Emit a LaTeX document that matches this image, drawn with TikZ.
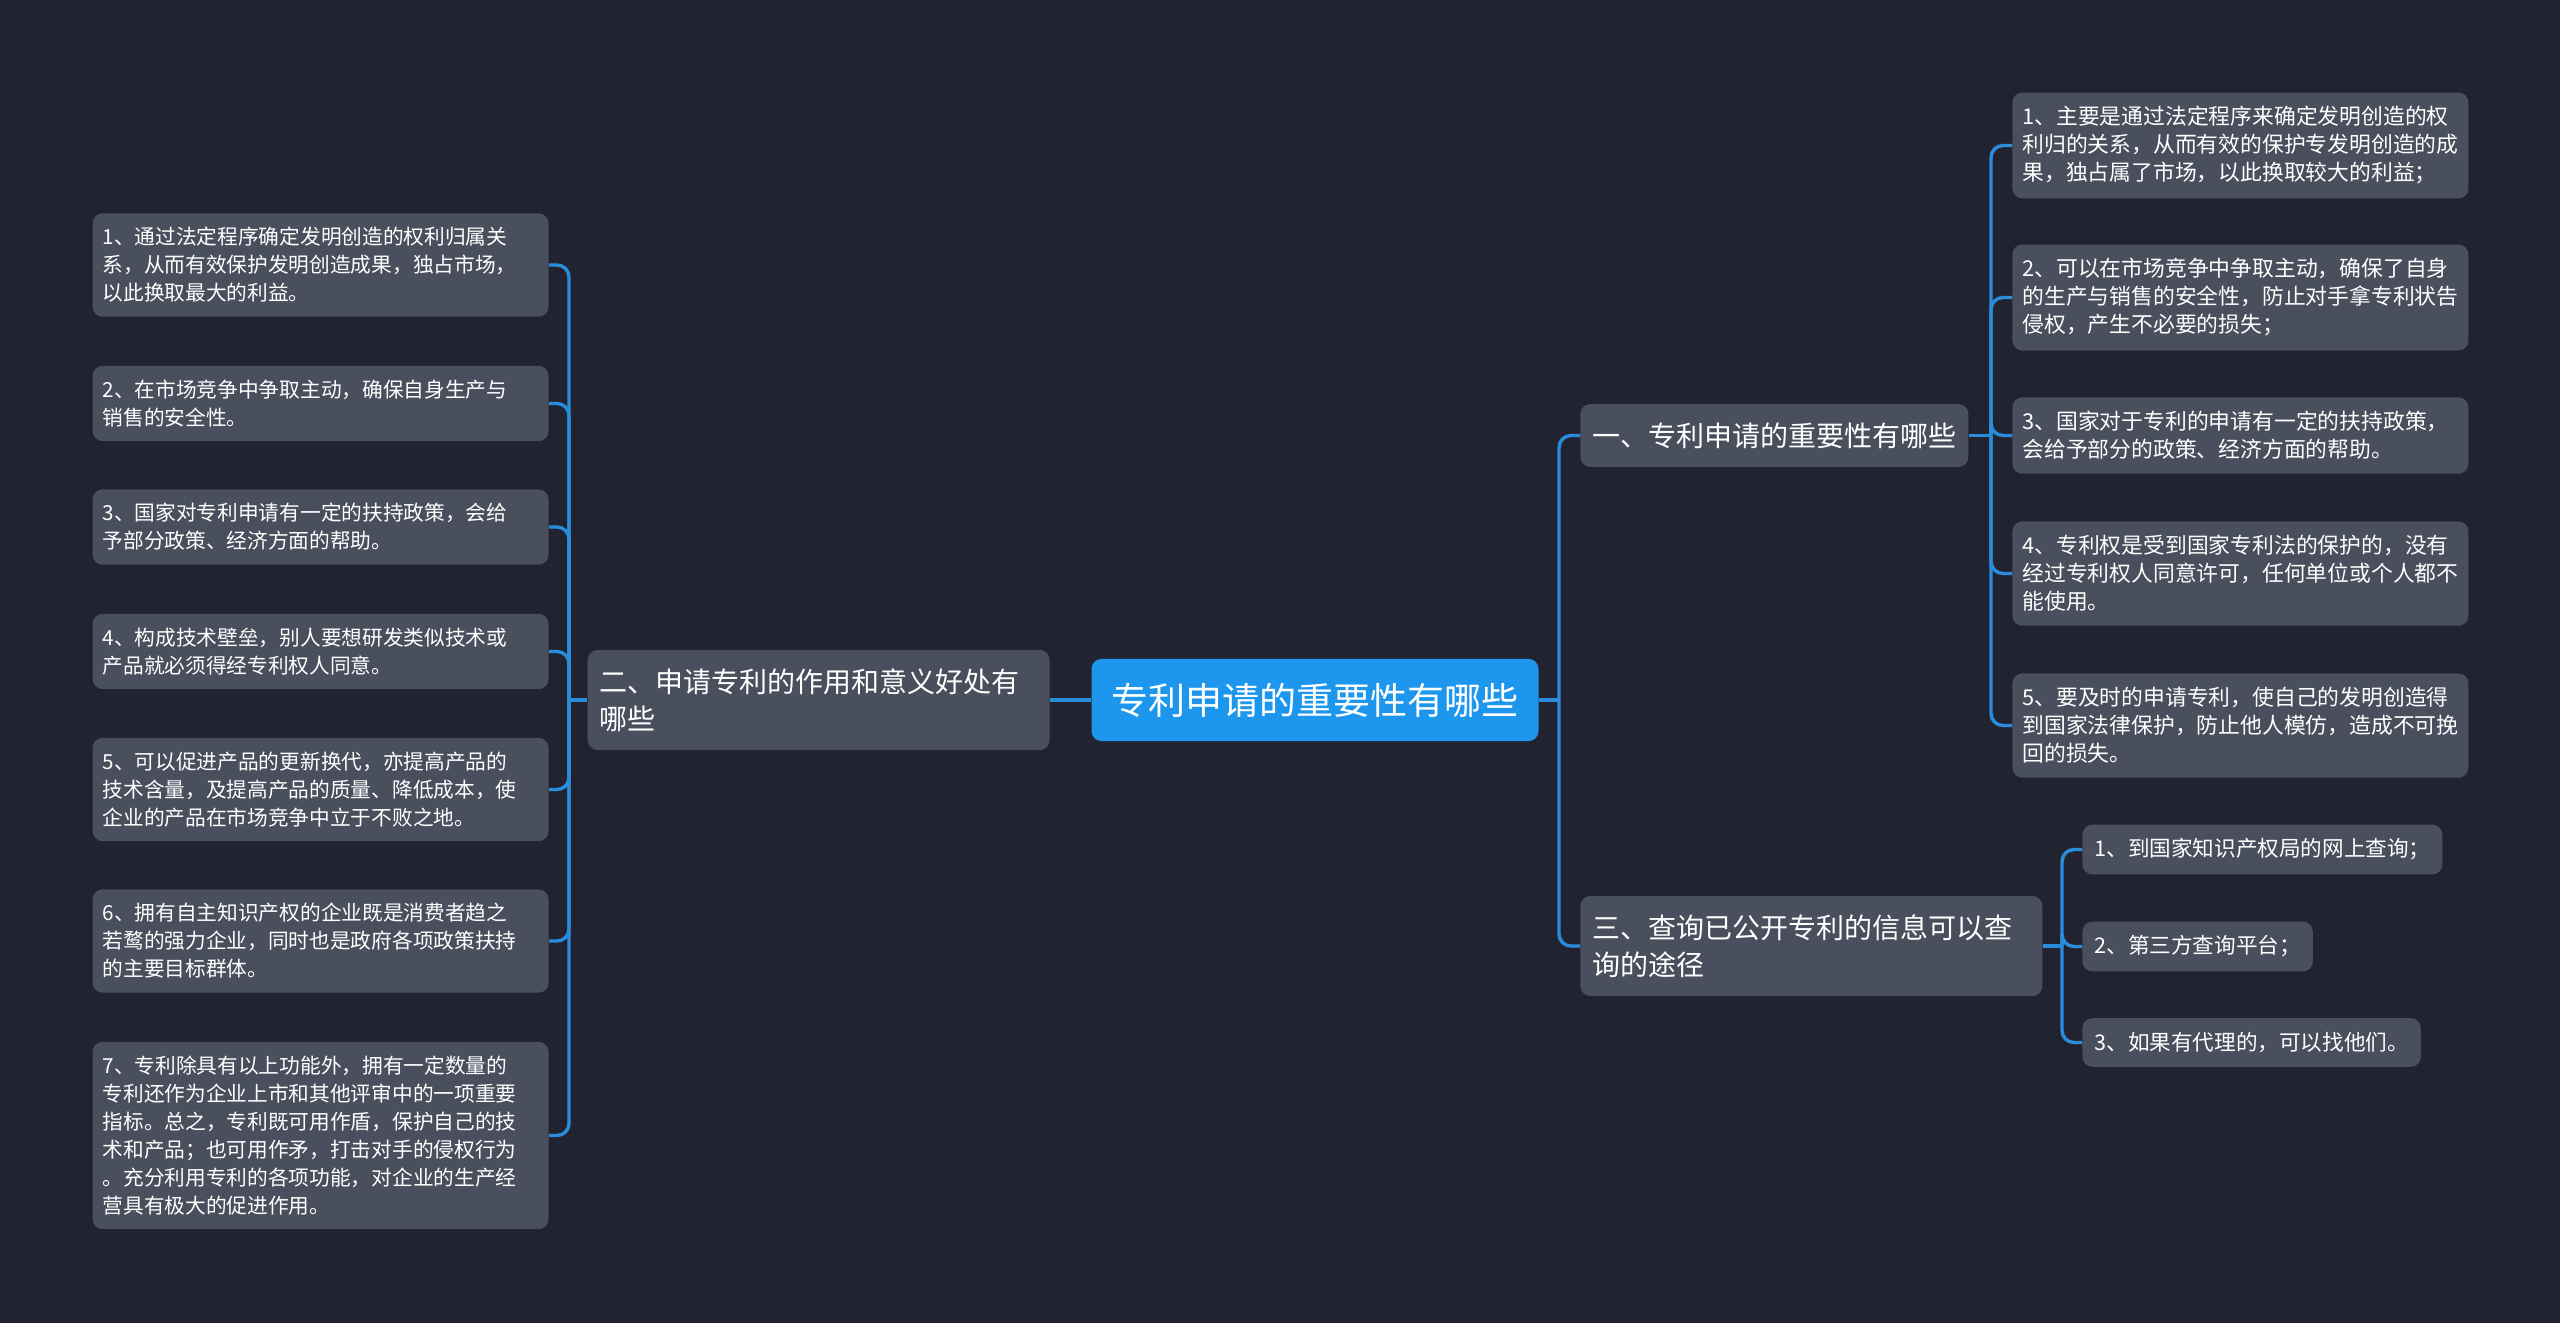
\documentclass[tikz,border=0pt]{standalone}
\usepackage{fontspec}
\setmainfont{Noto Sans CJK SC}
\usetikzlibrary{positioning}
\definecolor{bgcol}{HTML}{212430}
\definecolor{boxcol}{HTML}{4A4F5E}
\definecolor{rootcol}{HTML}{1D97EE}
\definecolor{linkcol}{HTML}{2A8DDC}
\tikzset{
    topic/.style={rectangle, rounded corners=5pt, fill=rootcol, text=white, inner xsep=10pt, inner ysep=12pt, font=\fontsize{18.5pt}{22pt}\selectfont},
    branch/.style={rectangle, rounded corners=5pt, fill=boxcol, text=white, inner xsep=6pt, inner ysep=9.25pt, align=left, font=\fontsize{14pt}{18.5pt}\selectfont},
    leaf/.style={rectangle, rounded corners=5pt, fill=boxcol, text=white, inner xsep=5pt, inner ysep=7pt, align=left},
    lleaf/.style={leaf, text width=218pt, font=\fontsize{10.35pt}{14pt}\selectfont},
    rleaf/.style={leaf, text width=218pt, font=\fontsize{10.9pt}{14pt}\selectfont},
    qleaf/.style={leaf, inner xsep=6pt, font=\fontsize{10.8pt}{14pt}\selectfont},
    link/.style={draw=linkcol, line width=1.7pt, rounded corners=6pt},
  }

\begin{document}
\begin{tikzpicture}[x=0.5pt, y=-0.5pt]
    \fill[bgcol] (0,0) rectangle (2560,1323);
    \node (root) [topic] at (1315,700) {专利申请的重要性有哪些};
    \node (b2) [branch, text width=219pt, left=20.5pt of root] {二、申请专利的作用和意义好处有\\哪些};
    \node (b1) [branch, anchor=west] at (1580,435.5) {一、专利申请的重要性有哪些};
    \node (b3) [branch, text width=219pt, anchor=west] at (1580,946) {三、查询已公开专利的信息可以查\\询的途径};

    % left leaves
    \node (l1) [lleaf, anchor=east] at (549,265) {1、通过法定程序确定发明创造的权利归属关\\系，从而有效保护发明创造成果，独占市场，\\以此换取最大的利益。};
    \node (l2) [lleaf, anchor=east] at (549,403.5) {2、在市场竞争中争取主动，确保自身生产与\\销售的安全性。};
    \node (l3) [lleaf, anchor=east] at (549,527) {3、国家对专利申请有一定的扶持政策，会给\\予部分政策、经济方面的帮助。};
    \node (l4) [lleaf, anchor=east] at (549,651.5) {4、构成技术壁垒，别人要想研发类似技术或\\产品就必须得经专利权人同意。};
    \node (l5) [lleaf, anchor=east] at (549,789.5) {5、可以促进产品的更新换代，亦提高产品的\\技术含量，及提高产品的质量、降低成本，使\\企业的产品在市场竞争中立于不败之地。};
    \node (l6) [lleaf, anchor=east] at (549,941) {6、拥有自主知识产权的企业既是消费者趋之\\若鹜的强力企业，同时也是政府各项政策扶持\\的主要目标群体。};
    \node (l7) [lleaf, anchor=east] at (549,1135.5) {7、专利除具有以上功能外，拥有一定数量的\\专利还作为企业上市和其他评审中的一项重要\\指标。总之，专利既可用作盾，保护自己的技\\术和产品；也可用作矛，打击对手的侵权行为\\。充分利用专利的各项功能，对企业的生产经\\营具有极大的促进作用。};

    % right leaves
    \node (r1) [rleaf, anchor=west] at (2012,145.5) {1、主要是通过法定程序来确定发明创造的权\\利归的关系，从而有效的保护专发明创造的成\\果，独占属了市场，以此换取较大的利益；};
    \node (r2) [rleaf, anchor=west] at (2012,297.5) {2、可以在市场竞争中争取主动，确保了自身\\的生产与销售的安全性，防止对手拿专利状告\\侵权，产生不必要的损失；};
    \node (r3) [rleaf, anchor=west] at (2012,435.5) {3、国家对于专利的申请有一定的扶持政策，\\会给予部分的政策、经济方面的帮助。};
    \node (r4) [rleaf, anchor=west] at (2012,573.5) {4、专利权是受到国家专利法的保护的，没有\\经过专利权人同意许可，任何单位或个人都不\\能使用。};
    \node (r5) [rleaf, anchor=west] at (2012,725.5) {5、要及时的申请专利，使自己的发明创造得\\到国家法律保护，防止他人模仿，造成不可挽\\回的损失。};

    \node (q1) [qleaf, anchor=west] at (2082,849.5) {1、到国家知识产权局的网上查询；};
    \node (q2) [qleaf, anchor=west] at (2082,946.5) {2、第三方查询平台；};
    \node (q3) [qleaf, anchor=west] at (2082,1042.5) {3、如果有代理的，可以找他们。};

    % connectors
    \coordinate (lbus) at (569,700);
    \coordinate (rbus) at (1559,700);
    \coordinate (b1bus) at (1991,435.5);
    \coordinate (b3bus) at (2062,946);

    \draw[link] (root.west) -- (b2.east);
    \draw[link] (b2.west) -- (lbus);
    \foreach \i in {1,...,7}
      \draw[link] (lbus) |- (l\i.east);
    \draw[link] (root.east) -- (rbus);
    \draw[link] (rbus) |- (b1.west);
    \draw[link] (rbus) |- (b3.west);
    \draw[link] (b1.east) -- (b1bus);
    \foreach \i in {1,...,5}
      \draw[link] (b1bus) |- (r\i.west);
    \draw[link] (b3.east) -- (b3bus);
    \foreach \i in {1,...,3}
      \draw[link] (b3bus) |- (q\i.west);
\end{tikzpicture}
\end{document}
